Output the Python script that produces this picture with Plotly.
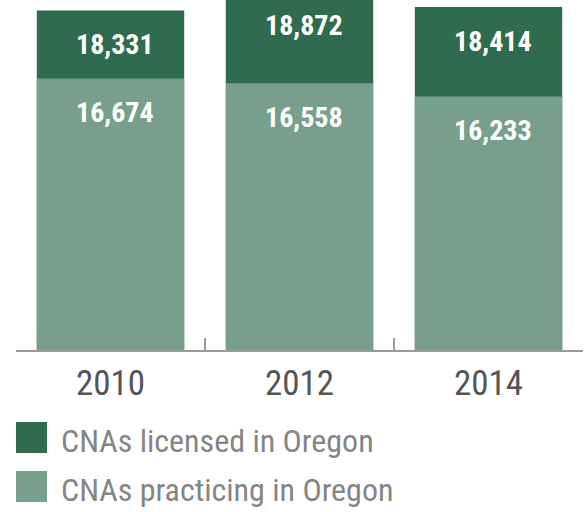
import plotly.graph_objects as go

years = ["2010", "2012", "2014"]
licensed = [18331, 18872, 18414]
practicing = [16674, 16558, 16233]
series_names = ["CNAs licensed in Oregon", "CNAs practicing in Oregon"]
colors = ["#2f6b4f", "#779f8b"]

W, H = 586, 512
ML, MR, MT, MB = 16, 3, 0, 162
PW, PH = W - ML - MR, H - MT - MB
YMIN, YMAX = 10057, 18586

def px_x(p):
    return (p - ML) / PW

def px_y(p):
    return (H - MB - p) / PH

FONT = "Roboto Condensed, Roboto, sans-serif"

fig = go.Figure()
for name, vals, col in zip(series_names, [licensed, practicing], colors):
    fig.add_trace(go.Bar(x=years, y=vals, name=name, marker=dict(color=col, line=dict(width=0)),
                         showlegend=False, hoverinfo="skip"))

annotations = []
for vals in [licensed, practicing]:
    for i, v in enumerate(vals):
        clipped = v > YMAX
        annotations.append(dict(x=i, y=min(v, YMAX), xref="x", yref="y", text=f"{v:,}", showarrow=False,
                                yanchor="middle", xanchor="center", yshift=-25 if clipped else -34, xshift=4,
                                font=dict(family=FONT, size=28, color="white", weight="bold")))

shapes = []
leg_tops = [422, 471]
for i, (name, col) in enumerate(zip(series_names, colors)):
    top = leg_tops[i]
    shapes.append(dict(type="rect", xref="paper", yref="paper", x0=px_x(16), x1=px_x(47),
                       y0=px_y(top + 31), y1=px_y(top), fillcolor=col, line=dict(width=0)))
    annotations.append(dict(x=px_x(59), y=px_y(top + 19), xref="paper", yref="paper", text=name,
                            showarrow=False, xanchor="left", yanchor="middle",
                            font=dict(family=FONT, size=32, color="#858585")))

fig.update_layout(
    width=W, height=H, margin=dict(l=ML, r=MR, t=MT, b=MB),
    paper_bgcolor="white", plot_bgcolor="white",
    barmode="overlay", bargap=0.22,
    xaxis=dict(type="category", range=[-0.5, 2.5], showline=True, linecolor="#9a9a9a", linewidth=2,
               ticks="inside", ticklen=12, tickwidth=1.5, tickcolor="#9a9a9a", tickson="boundaries",
               showgrid=False, ticklabelstandoff=1,
               tickfont=dict(family=FONT, size=35, color="#555555")),
    yaxis=dict(range=[YMIN, YMAX], visible=False, showgrid=False, zeroline=False),
    annotations=annotations, shapes=shapes,
)
fig.write_html("out.html", config={"displayModeBar": False},
               post_script="document.body.style.margin='0';")
